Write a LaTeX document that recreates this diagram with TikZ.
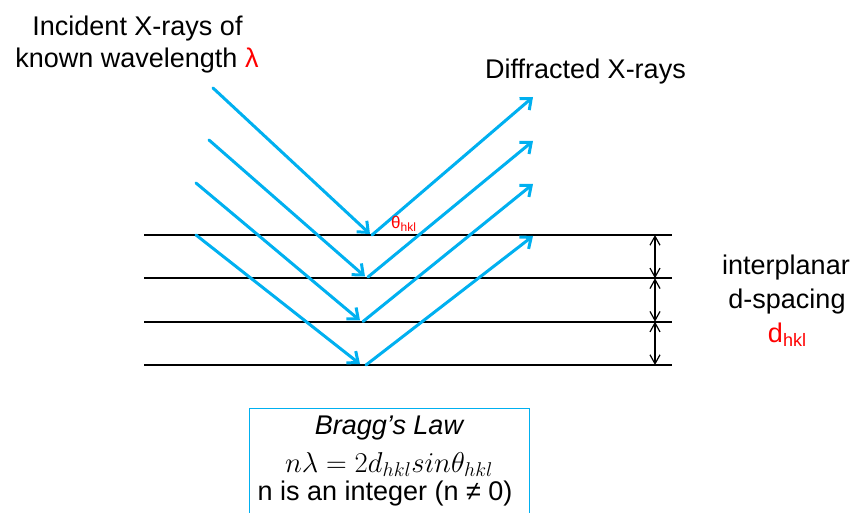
\documentclass[tikz,border=0pt]{standalone}
\usepackage{graphicx}
\usepackage{fontspec}
\setmainfont{Liberation Sans}
\usetikzlibrary{arrows.meta}
\definecolor{raycol}{RGB}{0,176,240}
\definecolor{lblred}{RGB}{255,0,0}
\begin{document}
\begin{tikzpicture}[x=1pt,y=-1pt,
  font=\fontsize{27}{32}\selectfont,
  xray/.style={draw=raycol,line width=3pt,line cap=round,
    -{Straight Barb[length=9pt,width=15pt]}},
  plane/.style={draw=black,line width=2pt},
  dimarrow/.style={draw=black,line width=1.2pt,
    {Straight Barb[length=9pt,width=10pt]}-{Straight Barb[length=9pt,width=10pt]}},
  lab/.style={anchor=base,inner sep=0pt},
  frame/.style={draw=raycol,line width=1.3pt,anchor=north west,
    minimum width=280pt,minimum height=140pt,inner sep=0pt}]
\useasboundingbox (0,0) rectangle (855,513);
\clip (0,0) rectangle (855,513);
% planes
\foreach \i/\y in {1/235,2/278.3,3/321.7,4/365}{
  \coordinate (pl\i) at (144,\y);
  \coordinate (pr\i) at (672,\y);
  \coordinate (d\i) at (655,\y);
  \draw[plane] (pl\i) -- (pr\i);
}
\draw[dimarrow] (d1) -- (d2);
\draw[dimarrow] (d2) -- (d3);
\draw[dimarrow] (d3) -- (d4);
% incident rays
\coordinate (i1) at (213,88);   \coordinate (h1) at (370,234);
\coordinate (i2) at (209,140);  \coordinate (h2) at (365,276.5);
\coordinate (i3) at (196,183);  \coordinate (h3) at (360,320.5);
\coordinate (i4) at (196,235);  \coordinate (h4) at (360,364);
\draw[xray] (i1) -- (h1);
\draw[xray] (i2) -- (h2);
\draw[xray] (i3) -- (h3);
\draw[xray] (i4) -- (h4);
% diffracted rays
\coordinate (r1) at (372,235);   \coordinate (o1) at (533,97);
\coordinate (r2) at (368,277);   \coordinate (o2) at (533,141);
\coordinate (r3) at (363,321.5); \coordinate (o3) at (533,184);
\coordinate (r4) at (366,365);   \coordinate (o4) at (533,236);
\draw[xray] (r1) -- (o1);
\draw[xray] (r2) -- (o2);
\draw[xray] (r3) -- (o3);
\draw[xray] (r4) -- (o4);
% labels
\node[lab] (inc1) at (137.5,36) {Incident X-rays of};
\node[lab] (inc2) at (137,68) {known wavelength \textcolor{lblred}{λ}};
\node[lab] (dif) at (585.5,79) {Diffracted X-rays};
\node[lab,anchor=base west,text=lblred] (theta) at (391,229)
  {\fontsize{17}{17}\selectfont θ\raisebox{-3pt}{\fontsize{12}{12}\selectfont hkl}};
\node[lab] (ip) at (786,275) {interplanar};
\node[lab] (ds) at (787,309) {d-spacing};
\node[lab,text=lblred] (dh) at (787,342)
  {d\raisebox{-5pt}{\fontsize{18}{18}\selectfont hkl}};
% Bragg box
\node[frame] (box) at (249,408) {};
\node[lab] (bl) at (389,435) {\itshape Bragg’s Law};
\node[lab] (eq) at (389,472) {\resizebox{208pt}{!}{$n\lambda = 2d_{hkl}sin\theta_{hkl}$}};
\node[lab] (ni) at (385,500) {n is an integer (n ≠ 0)};
\end{tikzpicture}
\end{document}
